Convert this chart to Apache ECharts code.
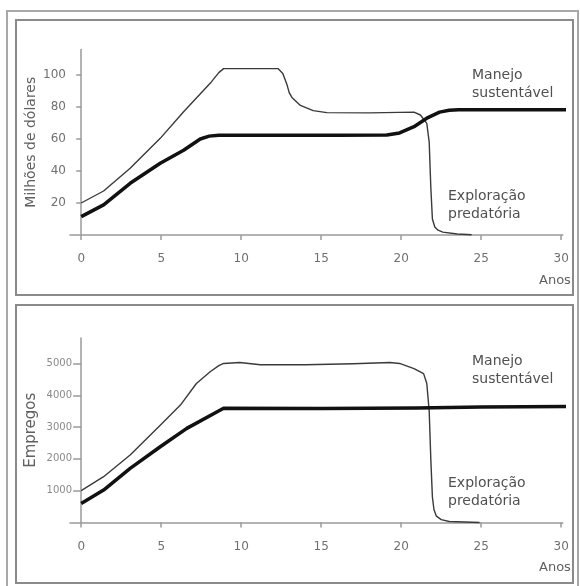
<!DOCTYPE html>
<html>
<head>
<meta charset="utf-8">
<script src="https://cdn.jsdelivr.net/npm/echarts@6/dist/echarts.min.js"></script>
<style>html,body{margin:0;padding:0;background:#fff}#c{width:580px;height:586px}</style>
</head>
<body>
<div id="c"></div>
<script>
// ---- Data ----
var xTicks = [0, 5, 10, 15, 20, 25, 30];
var topYTicks = [20, 40, 60, 80, 100];
var botYTicks = [1000, 2000, 3000, 4000, 5000];

// Top panel: Milhões de dólares
var topPredX = [0, 1.4, 3.06, 4.94, 6.4, 8.06, 8.6, 8.9, 12.3, 12.6, 12.86, 13.0, 13.17, 13.7, 14.5, 15.35, 18, 20.8, 21.2, 21.6, 21.75, 21.85, 21.95, 22.1, 22.3, 22.6, 23.5, 24.4];
var topPredY = [20, 27.5, 41.7, 60.4, 77, 94.8, 101.5, 104, 104, 101, 94, 89, 86, 81, 77.7, 76.5, 76.3, 76.8, 75, 69.8, 58, 30, 10, 5, 3, 1.8, 0.6, 0.2];
var topSustX = [0, 1.4, 3.06, 4.94, 6.4, 7.44, 8.0, 8.6, 12, 16, 19.1, 19.9, 20.8, 21.6, 22.4, 23.0, 23.6, 25, 30.5];
var topSustY = [11.5, 18.8, 32.3, 44.8, 53, 60, 61.8, 62.3, 62.3, 62.3, 62.5, 63.8, 67.7, 73, 76.8, 78, 78.3, 78.3, 78.3];

// Bottom panel: Empregos
var botPredX = [0, 1.4, 3.06, 4.94, 6.2, 7.2, 8.06, 8.6, 8.9, 9.9, 11.2, 14, 17, 19.3, 19.9, 20.8, 21.4, 21.6, 21.75, 21.85, 21.95, 22.05, 22.2, 22.5, 23, 24.9];
var botPredY = [1000, 1440, 2120, 3060, 3690, 4370, 4740, 4930, 5000, 5030, 4960, 4960, 4990, 5030, 5000, 4840, 4680, 4370, 3500, 2000, 800, 400, 200, 90, 30, 0];
var botSustX = [0, 1.4, 3.06, 4.94, 6.6, 8.9, 15, 21, 25, 30.5];
var botSustY = [600, 1020, 1700, 2380, 2960, 3590, 3580, 3600, 3630, 3650];

function zip(xs, ys) { return xs.map(function (x, i) { return [x, ys[i]]; }); }

var FONT = 'DejaVu Sans';
var axisGray = '#9a9a9a';

function xAxisDef(gi) {
  return {
    type: 'value', gridIndex: gi, min: -0.7, max: 30.1,
    axisLine: { onZero: true, lineStyle: { color: axisGray, width: 1.5 } },
    axisTick: { customValues: xTicks, length: 5, lineStyle: { color: axisGray, width: 1.5 } },
    axisLabel: { customValues: xTicks, margin: 18, color: '#707070', fontSize: 12, fontFamily: FONT },
    splitLine: { show: false }
  };
}

var chart = echarts.init(document.getElementById('c'), null, { renderer: 'canvas' });
chart.setOption({
  animation: false,
  backgroundColor: '#fff',
  grid: [
    { left: 70, top: 49.4, width: 492.8, height: 185.6, outerBoundsMode: 'none', containLabel: false },
    { left: 70, top: 338, width: 492.8, height: 184.5, outerBoundsMode: 'none', containLabel: false }
  ],
  xAxis: [xAxisDef(0), xAxisDef(1)],
  yAxis: [
    {
      type: 'value', gridIndex: 0, min: 0, max: 116,
      name: 'Milhões de dólares', nameLocation: 'middle', nameGap: 32, nameMoveOverlap: false,
      nameTextStyle: { color: '#606060', fontSize: 14, fontFamily: FONT },
      axisLine: { onZero: true, lineStyle: { color: axisGray, width: 1.5 } },
      axisTick: { customValues: topYTicks, length: 5, lineStyle: { color: axisGray, width: 1.5 } },
      axisLabel: { customValues: topYTicks, margin: 4, color: '#707070', fontSize: 12, fontFamily: FONT },
      splitLine: { show: false }
    },
    {
      type: 'value', gridIndex: 1, min: 0, max: 5800,
      name: 'Empregos', nameLocation: 'middle', nameGap: 31, nameMoveOverlap: false,
      nameTextStyle: { color: '#606060', fontSize: 15, fontFamily: FONT },
      axisLine: { onZero: true, lineStyle: { color: axisGray, width: 1.5 } },
      axisTick: { customValues: botYTicks, length: 8, lineStyle: { color: axisGray, width: 1.5 } },
      axisLabel: { customValues: botYTicks, margin: -2, color: '#8a8a8a', fontSize: 10, fontFamily: FONT,
        formatter: function (v) { return String(v); } },
      splitLine: { show: false }
    }
  ],
  series: [
    { name: 'Exploração predatória', type: 'line', xAxisIndex: 0, yAxisIndex: 0, data: zip(topPredX, topPredY),
      showSymbol: false, smooth: false, clip: false, lineStyle: { color: '#3a3a3a', width: 1.4, join: 'round' } },
    { name: 'Manejo sustentável', type: 'line', xAxisIndex: 0, yAxisIndex: 0, data: zip(topSustX, topSustY),
      showSymbol: false, smooth: false, clip: false, lineStyle: { color: '#111', width: 3.5, join: 'round' } },
    { name: 'Exploração predatória', type: 'line', xAxisIndex: 1, yAxisIndex: 1, data: zip(botPredX, botPredY),
      showSymbol: false, smooth: false, clip: false, lineStyle: { color: '#3a3a3a', width: 1.4, join: 'round' } },
    { name: 'Manejo sustentável', type: 'line', xAxisIndex: 1, yAxisIndex: 1, data: zip(botSustX, botSustY),
      showSymbol: false, smooth: false, clip: false, lineStyle: { color: '#111', width: 3.5, join: 'round' } }
  ],
  graphic: [
    { type: 'rect', shape: { x: 7, y: 11, width: 571, height: 600 }, style: { fill: null, stroke: '#a8a8a8', lineWidth: 2 }, z: 100 },
    { type: 'rect', shape: { x: 16, y: 20, width: 557, height: 275 }, style: { fill: null, stroke: '#8a8a8a', lineWidth: 2 }, z: 100 },
    { type: 'rect', shape: { x: 16, y: 305, width: 557, height: 278 }, style: { fill: null, stroke: '#8a8a8a', lineWidth: 2 }, z: 100 },
    { type: 'text', x: 472, y: 66, style: { text: 'Manejo\nsustentável', fill: '#505050', fontSize: 14, fontFamily: FONT, lineHeight: 18, verticalAlign: 'top' }, z: 100 },
    { type: 'text', x: 448, y: 187.5, style: { text: 'Exploração\npredatória', fill: '#505050', fontSize: 14, fontFamily: FONT, lineHeight: 18, verticalAlign: 'top' }, z: 100 },
    { type: 'text', x: 539, y: 281, style: { text: 'Anos', fill: '#606060', fontSize: 13, fontFamily: FONT, verticalAlign: 'middle' }, z: 100 },
    { type: 'text', x: 472, y: 352, style: { text: 'Manejo\nsustentável', fill: '#505050', fontSize: 14, fontFamily: FONT, lineHeight: 18, verticalAlign: 'top' }, z: 100 },
    { type: 'text', x: 448, y: 474, style: { text: 'Exploração\npredatória', fill: '#505050', fontSize: 14, fontFamily: FONT, lineHeight: 18, verticalAlign: 'top' }, z: 100 },
    { type: 'text', x: 539, y: 567.5, style: { text: 'Anos', fill: '#606060', fontSize: 13, fontFamily: FONT, verticalAlign: 'middle' }, z: 100 }
  ]
});
</script>
</body>
</html>
